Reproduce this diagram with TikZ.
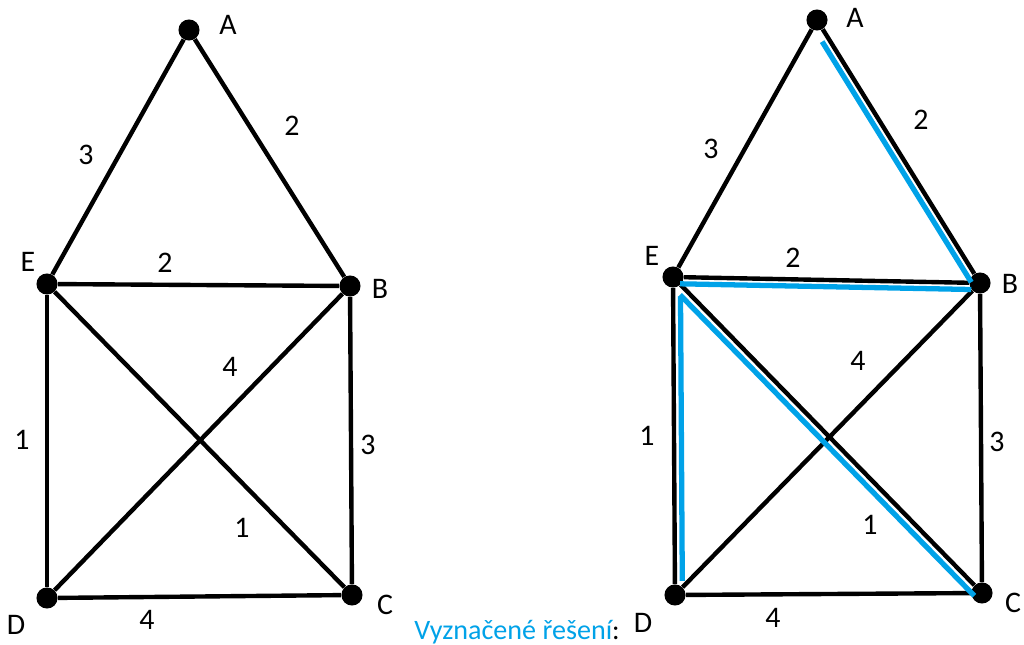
\documentclass[tikz,border=0pt]{standalone}
\usepackage{fontspec}
\setmainfont{Carlito}
\usepackage{tikz}
\usetikzlibrary{positioning,calc}
\definecolor{solblue}{RGB}{0,162,232}

\begin{document}
\begin{tikzpicture}[
    x=0.02cm, y=-0.02cm,
    vx/.style={circle, fill=black, inner sep=0pt, minimum size=12pt},
    ed/.style={-, line width=2.5pt, black},
    sol/.style={-, line width=3pt, solblue},
    lf/.style={font=\fontsize{17}{20}\selectfont, inner sep=0pt}
  ]
    \useasboundingbox (0,0) rectangle (1024,645);
    % left graph
    \node[vx] (A1) at (189,30) {};
    \node[vx] (B1) at (350,286) {};
    \node[vx] (C1) at (352,595) {};
    \node[vx] (D1) at (47,598) {};
    \node[vx] (E1) at (47,284) {};
    \draw[ed] (A1)--(E1); \draw[ed] (A1)--(B1); \draw[ed] (E1)--(B1);
    \draw[ed] (E1)--(D1); \draw[ed] (B1)--(C1); \draw[ed] (D1)--(C1);
    \draw[ed] (E1)--(C1); \draw[ed] (B1)--(D1);
    \node[lf] (lA1) at (228,25) {A};
    \node[lf] (lB1) at (380,289) {B};
    \node[lf] (lC1) at (385,605) {C};
    \node[lf] (lD1) at (16,625) {D};
    \node[lf] (lE1) at (28,262) {E};
    \node[lf] (wAE1) at (86,155) {3};
    \node[lf] (wAB1) at (292,126) {2};
    \node[lf] (wEB1) at (165,263) {2};
    \node[lf] (wBD1) at (230,367) {4};
    \node[lf] (wED1) at (22,440) {1};
    \node[lf] (wBC1) at (368,445) {3};
    \node[lf] (wEC1) at (242,528) {1};
    \node[lf] (wDC1) at (147,620) {4};
    % right graph
    \node[vx] (A2) at (817,20) {};
    \node[vx] (B2) at (980,283) {};
    \node[vx] (C2) at (982,593) {};
    \node[vx] (D2) at (675,595) {};
    \node[vx] (E2) at (673,277) {};
    \draw[ed] (A2)--(E2); \draw[ed] (A2)--(B2); \draw[ed] (E2)--(B2);
    \draw[ed] (E2)--(D2); \draw[ed] (B2)--(C2); \draw[ed] (D2)--(C2);
    \draw[ed] (E2)--(C2); \draw[ed] (B2)--(D2);
    % marked solution
    \draw[sol, shorten <=12pt, shorten >=3pt]
      ([xshift=-3.4pt,yshift=-2.1pt]A2.center) -- ([xshift=-3.4pt,yshift=-2.1pt]B2.center);
    \draw[sol, shorten <=4pt, shorten >=5pt]
      ([yshift=-3.8pt]E2.center) -- ([yshift=-3.8pt]B2.center);
    \draw[sol, shorten <=11pt, shorten >=8pt]
      ([xshift=4.2pt]E2.center) -- ([xshift=4.2pt]D2.center);
    \draw[sol, shorten <=10pt, shorten >=2pt]
      ([xshift=-3pt,yshift=-3pt]E2.center) -- ([xshift=-3pt,yshift=-3pt]C2.center);
    \node[lf] (lA2) at (855,18) {A};
    \node[lf] (lB2) at (1010,284) {B};
    \node[lf] (lC2) at (1013,603) {C};
    \node[lf] (lD2) at (643,623) {D};
    \node[lf] (lE2) at (652,256) {E};
    \node[lf] (wAE2) at (711,149) {3};
    \node[lf] (wAB2) at (921,120) {2};
    \node[lf] (wEB2) at (793,258) {2};
    \node[lf] (wBD2) at (858,361) {4};
    \node[lf] (wED2) at (647,436) {1};
    \node[lf] (wBC2) at (997,442) {3};
    \node[lf] (wEC2) at (870,525) {1};
    \node[lf] (wDC2) at (773,618) {4};
    \node[font=\fontsize{16}{19}\selectfont, inner sep=0pt] (cap) at (517,632)
      {\textcolor{solblue}{Vyznačené řešení}:};
  \end{tikzpicture}
\end{document}
